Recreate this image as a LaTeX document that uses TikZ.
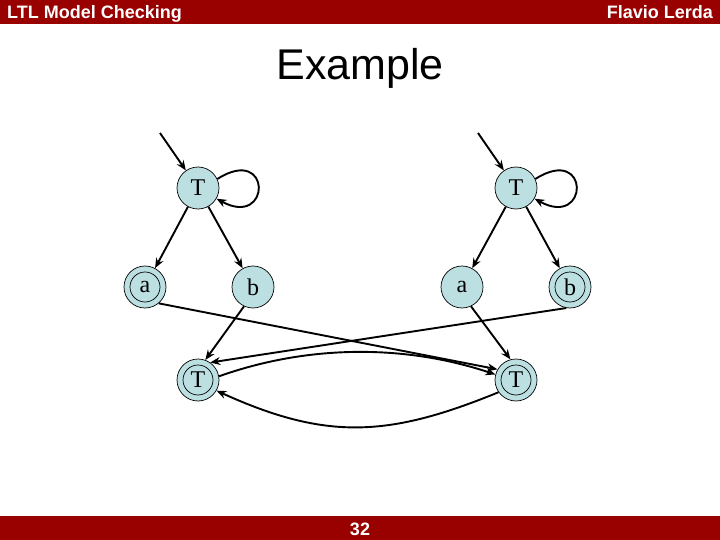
\documentclass[tikz,border=0pt]{standalone}
\usepackage{fontspec}
\setmainfont{Liberation Serif}
\newfontfamily\arialf{Liberation Sans}
\usetikzlibrary{arrows.meta}
\definecolor{barred}{HTML}{990000}
\definecolor{nodecol}{HTML}{BCDFE2}
\tikzset{
  state/.style={circle, draw=black, line width=0.7pt, fill=nodecol, minimum size=42pt, inner sep=0pt,
    font=\fontsize{24}{24}\selectfont},
  accepting/.style={state, path picture={\draw[line width=0.7pt] (path picture bounding box.center) circle (15pt);}},
  edge/.style={line width=1.9pt, -{Stealth[length=10pt,width=8pt]}},
  bartext/.style={text=white, font=\arialf\bfseries\fontsize{18}{18}\selectfont, inner sep=0pt}
}
\begin{document}
\begin{tikzpicture}[x=1pt,y=-1pt]
\useasboundingbox (0,0) rectangle (720,540);
% header and footer
\fill[barred] (0,0) rectangle (720,24);
\fill[barred] (0,516) rectangle (720,540);
\node[bartext, anchor=base west] (hl) at (7,19) {LTL Model Checking};
\node[bartext, anchor=base east] (hr) at (713,19) {Flavio Lerda};
\node[bartext, anchor=base] (pg) at (360,535) {32};
\node[font=\arialf\fontsize{43}{43}\selectfont, inner sep=0pt] (title) at (360,68) {Example};
% nodes
\node[state] (LT) at (198,188) {T};
\node[accepting] (La) at (145,287) {a};
\node[state] (Lb) at (253,287) {b};
\node[state] (RT) at (516,188) {T};
\node[state] (Ra) at (462,287) {a};
\node[accepting] (Rb) at (570,287) {b};
\node[accepting] (BL) at (198,380) {T};
\node[accepting] (BR) at (516,380) {T};
\coordinate (iL) at (160,133);
\coordinate (iR) at (478,133);
% edges
\draw[edge] (iL) -- (LT);
\draw[edge] (iR) -- (RT);
\draw[edge] (LT.25) .. controls +(55,-35) and +(55,30) .. (LT.-30);
\draw[edge] (RT.25) .. controls +(55,-35) and +(55,30) .. (RT.-30);
\draw[edge] (LT) -- (La);
\draw[edge] (LT) -- (Lb);
\draw[edge] (RT) -- (Ra);
\draw[edge] (RT) -- (Rb);
\draw[edge] (Lb.-115) -- (BL.70);
\draw[edge] (Ra.-65) -- (BR.105);
\draw[edge] (La.-50) -- (BR.150);
\draw[edge] (Rb.-100) -- (BL.55);
\draw[edge] (BL.10) .. controls +(90,-32) and +(-90,-30) .. (BR.165);
\draw[edge] (BR.-145) .. controls +(-110,45) and +(110,50) .. (BL.-30);
\end{tikzpicture}
\end{document}
